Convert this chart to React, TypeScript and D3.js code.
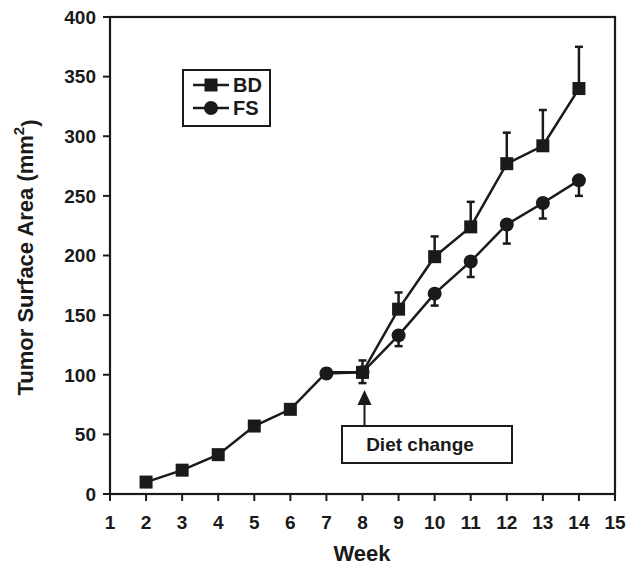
import * as d3 from "d3";

// Tumor surface area by week, mean with one-sided error bars
const bdWeeks = [2, 3, 4, 5, 6, 7, 8, 9, 10, 11, 12, 13, 14];
const bdMean = [10, 20, 33, 57, 71, 102, 102, 155, 199, 224, 277, 292, 340];
const bdUpper = [10, 20, 33, 57, 71, 105, 112, 169, 216, 245, 303, 322, 375];

const fsWeeks = [7, 8, 9, 10, 11, 12, 13, 14];
const fsMean = [101, 102, 133, 168, 195, 226, 244, 263];
const fsLower = [98, 93, 124, 158, 182, 210, 231, 250];

const xTicks = [1, 2, 3, 4, 5, 6, 7, 8, 9, 10, 11, 12, 13, 14, 15];
const yTicks = [0, 50, 100, 150, 200, 250, 300, 350, 400];
const dietWeek = 8;

const width = 626;
const height = 565;
const marginLeft = 110;
const marginRight = 11;
const marginTop = 17;
const marginBottom = 71;

const font = "Liberation Sans, Arial, sans-serif";

export default function App() {
    const x = d3.scaleLinear()
        .domain([1, 15])
        .range([marginLeft, width - marginRight]);
    const y = d3.scaleLinear()
        .domain([0, 400])
        .range([height - marginBottom, marginTop]);

    const bd = bdWeeks.map((w, i) => ({ w, v: bdMean[i], e: bdUpper[i] }));
    const fs = fsWeeks.map((w, i) => ({ w, v: fsMean[i], e: fsLower[i] }));

    // before the diet change the groups overlap; the circle hides the square there
    const bdMarks = bd.filter(d => !(d.w < dietWeek && fs.some(f => f.w === d.w)));

    const line = d3.line<{ w: number; v: number }>()
        .x(d => x(d.w))
        .y(d => y(d.v));

    const cap = 4;
    const sq = 13;
    const r = 7;
    const stroke = "#1a1a1a";

    return (
        <svg width={width} height={height} style={{ position: "absolute", left: 0, top: 0, background: "#fff" }}>
            {/* frame */}
            <rect x={x(1)} y={y(400)} width={x(15) - x(1)} height={y(0) - y(400)}
                fill="none" stroke={stroke} strokeWidth={2.2} />

            {/* y axis */}
            {yTicks.map(t => (
                <g key={"y" + t}>
                    <line x1={x(1) - 7} x2={x(1)} y1={y(t)} y2={y(t)} stroke={stroke} strokeWidth={2} />
                    <text x={x(1) - 14} y={y(t)} dy="0.36em" textAnchor="end"
                        fontFamily={font} fontWeight="bold" fontSize={19} fill={stroke}>{t}</text>
                </g>
            ))}

            {/* x axis */}
            {xTicks.map(t => (
                <g key={"x" + t}>
                    <line x1={x(t)} x2={x(t)} y1={y(0)} y2={y(0) + 7} stroke={stroke} strokeWidth={2} />
                    <text x={x(t)} y={y(0) + 35} textAnchor="middle"
                        fontFamily={font} fontWeight="bold" fontSize={19} fill={stroke}>{t}</text>
                </g>
            ))}

            <text x={362} y={height - 4} textAnchor="middle"
                fontFamily={font} fontWeight="bold" fontSize={22} fill={stroke}>Week</text>

            <text transform={`translate(33,${(y(0) + y(400)) / 2 + 2}) rotate(-90)`} textAnchor="middle"
                fontFamily={font} fontWeight="bold" fontSize={22} fill={stroke}>
                Tumor Surface Area (mm<tspan dy="-0.6em" fontSize={15}>2</tspan><tspan dy="0.6em">)</tspan>
            </text>

            {/* error bars */}
            {bd.filter(d => d.e !== d.v).map(d => (
                <g key={"bde" + d.w}>
                    <line x1={x(d.w)} x2={x(d.w)} y1={y(d.v)} y2={y(d.e)} stroke={stroke} strokeWidth={2.5} />
                    <line x1={x(d.w) - cap} x2={x(d.w) + cap} y1={y(d.e)} y2={y(d.e)} stroke={stroke} strokeWidth={2.5} />
                </g>
            ))}
            {fs.filter(d => d.e !== d.v).map(d => (
                <g key={"fse" + d.w}>
                    <line x1={x(d.w)} x2={x(d.w)} y1={y(d.v)} y2={y(d.e)} stroke={stroke} strokeWidth={2.5} />
                    <line x1={x(d.w) - cap} x2={x(d.w) + cap} y1={y(d.e)} y2={y(d.e)} stroke={stroke} strokeWidth={2.5} />
                </g>
            ))}

            {/* lines */}
            <path d={line(bd) ?? ""} fill="none" stroke={stroke} strokeWidth={2.5} />
            <path d={line(fs) ?? ""} fill="none" stroke={stroke} strokeWidth={2.5} />

            {/* markers */}
            {bdMarks.map(d => (
                <rect key={"bdm" + d.w} x={x(d.w) - sq / 2} y={y(d.v) - sq / 2} width={sq} height={sq} fill={stroke} />
            ))}
            {fs.map(d => (
                <circle key={"fsm" + d.w} cx={x(d.w)} cy={y(d.v)} r={r} fill={stroke} />
            ))}

            {/* legend */}
            <rect x={183} y={70} width={87} height={56} fill="#fff" stroke={stroke} strokeWidth={2} />
            <line x1={193} x2={229} y1={85} y2={85} stroke={stroke} strokeWidth={2.5} />
            <rect x={211 - sq / 2} y={85 - sq / 2} width={sq} height={sq} fill={stroke} />
            <text x={233} y={85} dy="0.36em" fontFamily={font} fontWeight="bold" fontSize={20} fill={stroke}>BD</text>
            <line x1={193} x2={229} y1={108} y2={108} stroke={stroke} strokeWidth={2.5} />
            <circle cx={211} cy={108} r={r} fill={stroke} />
            <text x={233} y={108} dy="0.36em" fontFamily={font} fontWeight="bold" fontSize={20} fill={stroke}>FS</text>

            {/* diet change annotation */}
            <line x1={x(dietWeek) + 2} x2={x(dietWeek) + 2} y1={426} y2={402} stroke={stroke} strokeWidth={2} />
            <path d={`M${x(dietWeek) + 2},390 L${x(dietWeek) - 5},405 L${x(dietWeek) + 9},405 Z`} fill={stroke} />
            <rect x={342} y={426} width={170} height={37} fill="#fff" stroke={stroke} strokeWidth={2} />
            <text x={420} y={444.5} dy="0.36em" textAnchor="middle"
                fontFamily={font} fontWeight="bold" fontSize={19} fill={stroke}>Diet change</text>
        </svg>
    );
}
